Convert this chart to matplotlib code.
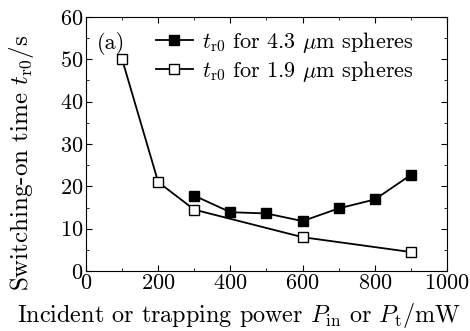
import matplotlib
matplotlib.use("Agg")
import matplotlib.pyplot as plt
from matplotlib.ticker import MultipleLocator

plt.rcParams['font.family'] = 'cmr10'
plt.rcParams['mathtext.fontset'] = 'cm'
plt.rcParams['axes.formatter.use_mathtext'] = True

# 4.3 um spheres (filled)
p_big = [300, 400, 500, 600, 700, 800, 900]
t_big = [17.8, 13.9, 13.6, 11.8, 14.8, 16.9, 22.7]
# 1.9 um spheres (open)
p_small = [100, 200, 300, 600, 900]
t_small = [50.0, 21.0, 14.5, 8.0, 4.5]

fig = plt.figure(figsize=(4.7, 3.31), dpi=100)
ax = fig.add_axes([0.183, 0.181, 0.768, 0.768])

ax.plot(p_big, t_big, '-s', color='black', lw=1.3, ms=7, mfc='black',
        label=r'$t_{\mathrm{r0}}$ for 4.3 $\mu$m spheres')
ax.plot(p_small, t_small, '-s', color='black', lw=1.3, ms=7, mfc='white',
        label=r'$t_{\mathrm{r0}}$ for 1.9 $\mu$m spheres')

ax.set_xlim(0, 1000)
ax.set_ylim(0, 60)
ax.xaxis.set_major_locator(MultipleLocator(200))
ax.xaxis.set_minor_locator(MultipleLocator(100))
ax.yaxis.set_major_locator(MultipleLocator(10))
ax.yaxis.set_minor_locator(MultipleLocator(5))
ax.tick_params(which='both', direction='in', top=True, right=True, labelsize=16)
ax.tick_params(which='major', length=4, pad=2)
ax.tick_params(which='minor', length=2.5)

# axis labels placed on the figure (centred like the original)
fig.text(239 / 470, 1 - 316 / 331,
         r'Incident or trapping power $P_{\mathrm{in}}$ or $P_{\mathrm{t}}/\mathrm{mW}$',
         fontsize=17.4, ha='center', va='center')
fig.text(22 / 470, 1 - 163 / 331, r'Switching-on time $t_{\mathrm{r0}}/\mathrm{s}$',
         fontsize=18, ha='center', va='center', rotation=90)

ax.text(0.03, 0.875, '(a)', transform=ax.transAxes, fontsize=16)
ax.legend(loc='upper right', bbox_to_anchor=(0.945, 1.0), frameon=False,
          fontsize=16, handlelength=1.7, handletextpad=0.4,
          borderaxespad=0.2, labelspacing=0.15)

fig.savefig('out.png', dpi=100)
